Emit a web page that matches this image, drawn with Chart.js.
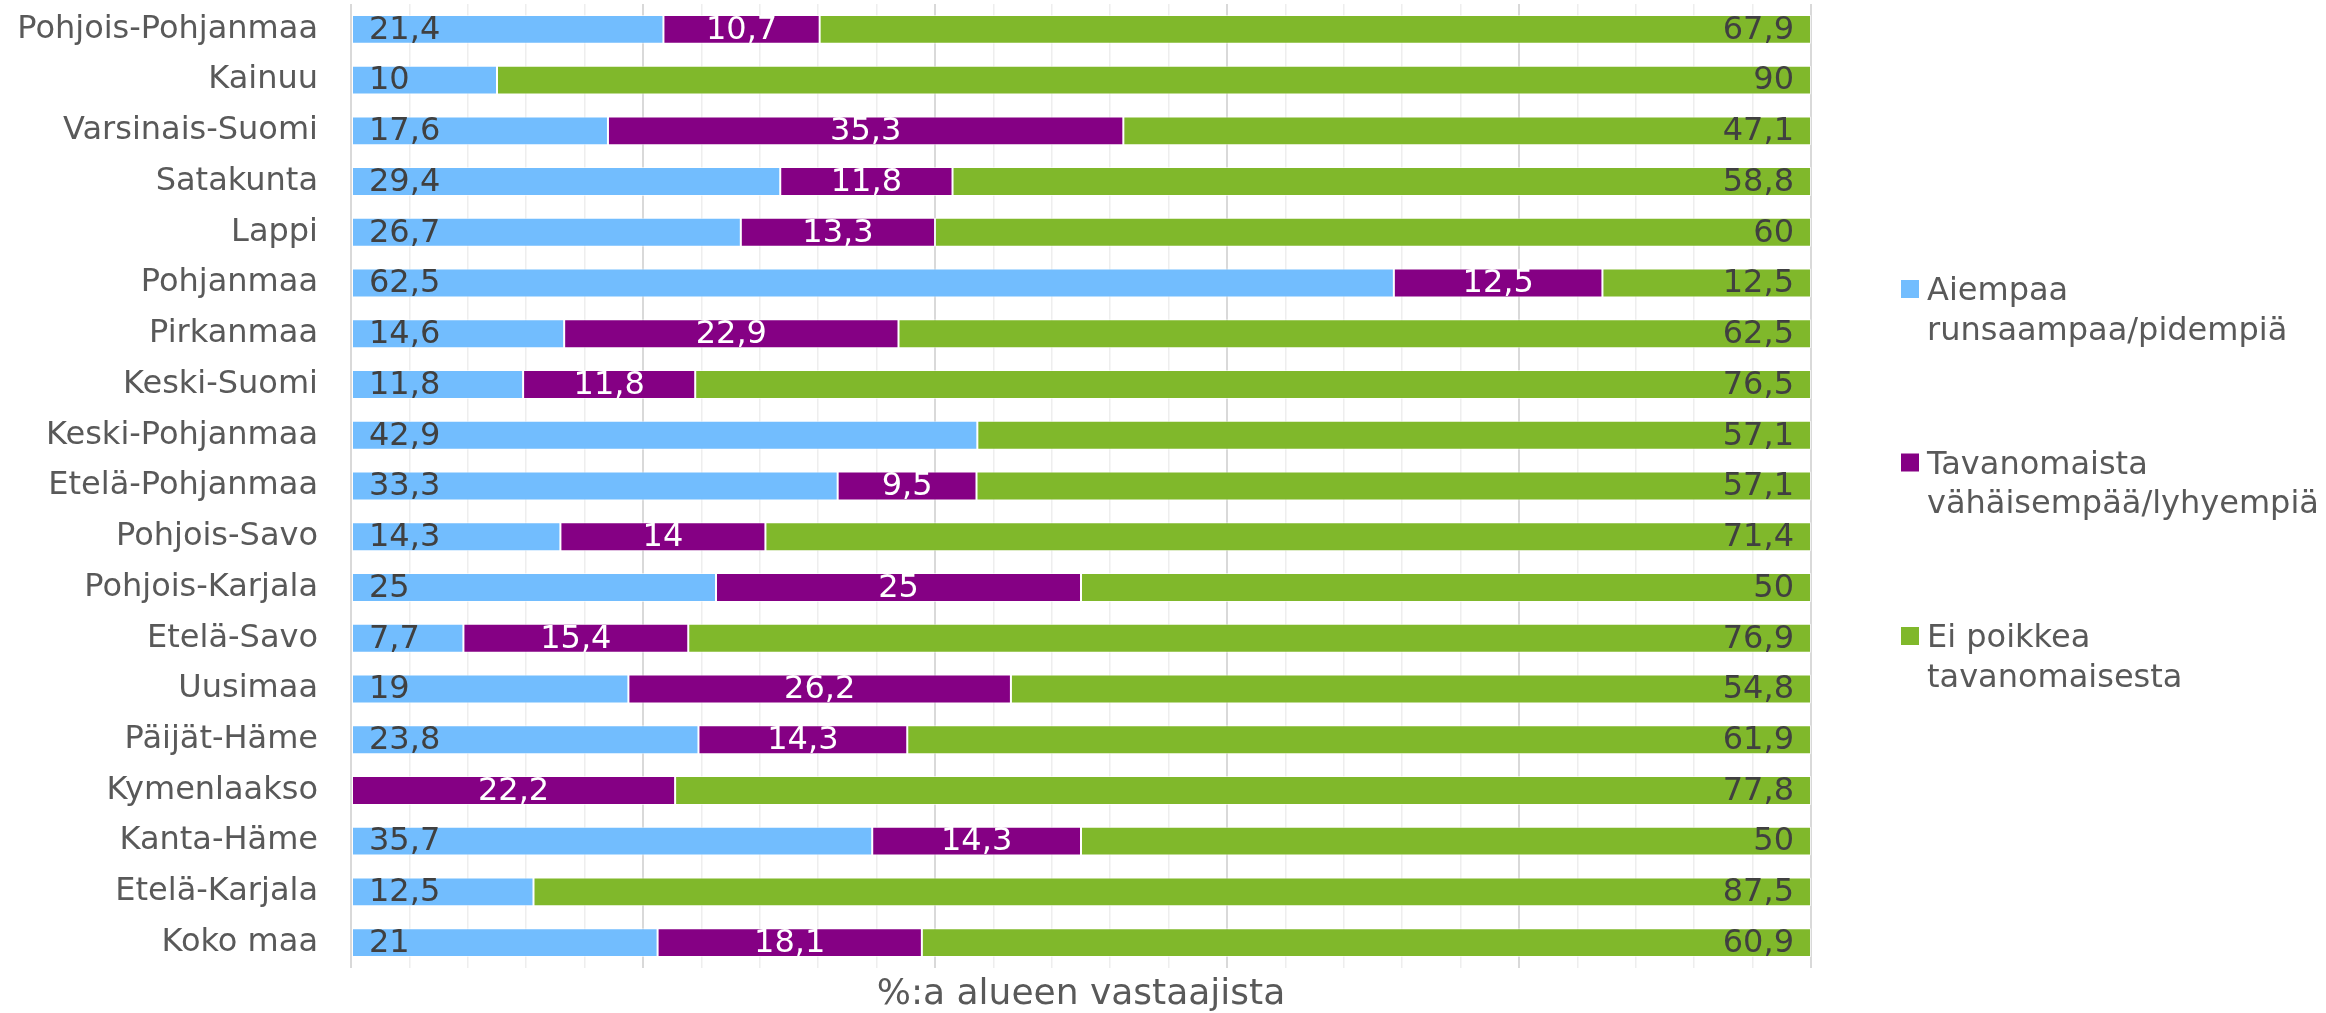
<!DOCTYPE html>
<html>
<head>
<meta charset="utf-8">
<script src="https://cdn.jsdelivr.net/npm/chart.js@4/dist/chart.umd.min.js"></script>
<style>
  html, body { margin: 0; padding: 0; background: #ffffff; overflow: hidden; }
  canvas { display: block; }
</style>
</head>
<body>
<canvas id="c" width="2326" height="1013"></canvas>
<script>
// ---- Data ----
const categories = [
  "Pohjois-Pohjanmaa", "Kainuu", "Varsinais-Suomi", "Satakunta", "Lappi",
  "Pohjanmaa", "Pirkanmaa", "Keski-Suomi", "Keski-Pohjanmaa", "Etelä-Pohjanmaa",
  "Pohjois-Savo", "Pohjois-Karjala", "Etelä-Savo", "Uusimaa", "Päijät-Häme",
  "Kymenlaakso", "Kanta-Häme", "Etelä-Karjala", "Koko maa"
];
const aiempaa =     [21.4, 10, 17.6, 29.4, 26.7, 62.5, 14.6, 11.8, 42.9, 33.3, 14.3, 25, 7.7, 19, 23.8, 0, 35.7, 12.5, 21];
const vahaisempaa = [10.7, 0, 35.3, 11.8, 13.3, 12.5, 22.9, 11.8, 0, 9.5, 14, 25, 15.4, 26.2, 14.3, 22.2, 14.3, 0, 18.1];
const eiPoikkea =   [67.9, 90, 47.1, 58.8, 60, 12.5, 62.5, 76.5, 57.1, 57.1, 71.4, 50, 76.9, 54.8, 61.9, 77.8, 50, 87.5, 60.9];
const seriesNames = [
  ["Aiempaa", "runsaampaa/pidempiä"],
  ["Tavanomaista", "vähäisempää/lyhyempiä"],
  ["Ei poikkea", "tavanomaisesta"]
];
const xTitle = "%:a alueen vastaajista";

// ---- Styling ----
const FONT = "'DejaVu Sans', Verdana, sans-serif";
const colors = ["#72BDFE", "#850084", "#80B82B"];
const labelColors = ["#404040", "#ffffff", "#404040"];
const labelPos = ["start", "center", "end"];

// 100% stacked: bar lengths are each row's share of its total
const totals = categories.map((_, i) => aiempaa[i] + vahaisempaa[i] + eiPoikkea[i]);
const share = arr => arr.map((v, i) => v / totals[i] * 100);
const rawSeries = [aiempaa, vahaisempaa, eiPoikkea];

const datasets = rawSeries.map((arr, k) => ({
  label: seriesNames[k].join(" "),
  data: share(arr),
  raw: arr,
  backgroundColor: colors[k],
  borderColor: "rgba(255,255,255,0.6)",
  borderWidth: 1,
  borderSkipped: false,
  barPercentage: 0.57,
  categoryPercentage: 1.0
}));

const valueLabels = {
  id: "valueLabels",
  afterDatasetsDraw(chart) {
    const ctx = chart.ctx;
    ctx.save();
    ctx.font = "32px " + FONT;
    ctx.textBaseline = "middle";
    chart.data.datasets.forEach((ds, di) => {
      const meta = chart.getDatasetMeta(di);
      meta.data.forEach((bar, i) => {
        const v = ds.raw[i];
        if (!v) return;
        const txt = String(v).replace(".", ",");
        const p = bar.getProps(["x", "y", "base"], true);
        const left = Math.min(p.x, p.base), right = Math.max(p.x, p.base);
        ctx.fillStyle = labelColors[di];
        const y = p.y + 1;
        if (labelPos[di] === "start") {
          ctx.textAlign = "left";
          ctx.fillText(txt, left + 17, y);
        } else if (labelPos[di] === "end") {
          ctx.textAlign = "right";
          ctx.fillText(txt, right - 17, y);
        } else {
          ctx.textAlign = "center";
          ctx.fillText(txt, (left + right) / 2, y);
        }
      });
    });
    ctx.restore();
  }
};

const sideLegend = {
  id: "sideLegend",
  afterDraw(chart) {
    const ctx = chart.ctx;
    const area = chart.chartArea;
    ctx.save();
    ctx.font = "32px " + FONT;
    ctx.textAlign = "left";
    ctx.textBaseline = "alphabetic";
    const step = 173.5, lineH = 39.5;
    const boxX = area.right + 90, textX = area.right + 116;
    const mid = (area.top + area.bottom) / 2;
    const firstBaseline = mid - 186;
    chart.data.datasets.forEach((ds, i) => {
      const base = firstBaseline + i * step;
      ctx.fillStyle = colors[i];
      ctx.fillRect(boxX, base - 20, 18, 18);
      ctx.fillStyle = "#595959";
      seriesNames[i].forEach((ln, j) => ctx.fillText(ln, textX, base + j * lineH));
    });
    ctx.restore();
  }
};

new Chart(document.getElementById("c"), {
  type: "bar",
  data: { labels: categories, datasets: datasets },
  options: {
    indexAxis: "y",
    responsive: false,
    animation: false,
    devicePixelRatio: 1,
    layout: { padding: { top: 4, right: 515, left: 0, bottom: 0 } },
    plugins: { legend: { display: false }, tooltip: { enabled: false } },
    scales: {
      x: {
        stacked: true,
        min: 0,
        max: 100,
        ticks: { display: false, stepSize: 4 },
        grid: {
          drawTicks: false,
          color: c => (Math.round(c.tick.value) % 20 === 0 ? "#d9d9d9" : "#eeeeee"),
          lineWidth: c => (Math.round(c.tick.value) % 20 === 0 ? 2 : 1.5)
        },
        border: { display: false },
        title: {
          display: true,
          text: xTitle,
          color: "#595959",
          font: { family: FONT, size: 36, lineHeight: 1.0 },
          padding: { top: 0, bottom: 0 }
        },
        afterFit: s => { s.height = 45; s.paddingLeft = 0; s.paddingRight = 0; }
      },
      y: {
        stacked: true,
        ticks: { color: "#595959", font: { family: FONT, size: 32 }, padding: 33, autoSkip: false },
        grid: { display: false, drawTicks: false },
        border: { display: false },
        afterFit: s => { s.width = 351; s.paddingTop = 0; s.paddingBottom = 0; }
      }
    }
  },
  plugins: [valueLabels, sideLegend]
});
</script>
</body>
</html>
